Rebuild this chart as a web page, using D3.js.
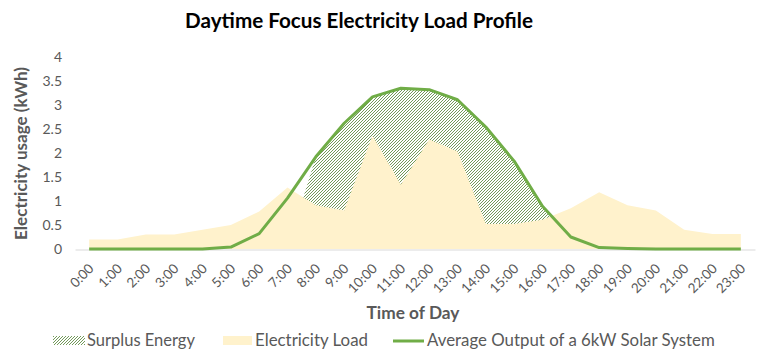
<!DOCTYPE html>
<html>
<head>
<meta charset="utf-8">
<script src="https://cdn.jsdelivr.net/npm/d3@7"></script>
<style>
  html, body { margin: 0; padding: 0; background: #ffffff; }
  svg { display: block; font-family: Lato, "Open Sans", "Liberation Sans", sans-serif; }
</style>
</head>
<body>
<svg id="chart" width="770" height="360"></svg>
<script>
// ---- data ----
const hours = ["0:00","1:00","2:00","3:00","4:00","5:00","6:00","7:00","8:00","9:00","10:00","11:00",
               "12:00","13:00","14:00","15:00","16:00","17:00","18:00","19:00","20:00","21:00","22:00","23:00"];
const load = [0.2,0.2,0.3,0.3,0.4,0.5,0.78,1.28,0.91,0.8,2.36,1.34,2.28,2.03,0.52,0.52,0.61,0.85,1.18,0.91,0.8,0.4,0.31,0.31];
const solar = [0,0,0,0,0,0.04,0.32,1.06,1.92,2.62,3.17,3.35,3.32,3.11,2.54,1.83,0.89,0.25,0.03,0.01,0,0,0,0];
const surplus = [0,0,0,0,0,0,0,0,1.92,2.62,3.17,3.35,3.32,3.11,2.54,1.83,0.89,0,0,0,0,0,0,0];
const yTicks = [0,0.5,1,1.5,2,2.5,3,3.5,4];
const seriesNames = ["Surplus Energy","Electricity Load","Average Output of a 6kW Solar System"];
const title = "Daytime Focus Electricity Load Profile";
const xTitle = "Time of Day";
const yTitle = "Electricity usage (kWh)";

// ---- chart ----
const svg = d3.select("#chart");
const textCol = "#595959";
const loadCol = "#FFF2CC";
const solarCol = "#70AD47";
const hatchCol = "#4E7F2E";

const defs = svg.append("defs");
const pat = defs.append("pattern").attr("id","hatch").attr("patternUnits","userSpaceOnUse")
  .attr("width",3).attr("height",3);
pat.append("rect").attr("width",3).attr("height",3).attr("fill","#ffffff");
pat.append("path").attr("d","M-1,1 l2,-2 M0,3 l3,-3 M2,4 l2,-2")
  .attr("stroke",hatchCol).attr("stroke-width",0.8);

const x = d3.scalePoint().domain(hours).range([75,755]).padding(0.5);
const y = d3.scaleLinear().domain([0,4]).range([249,57]);

function fit(sel, w) {
  const l = sel.node().getComputedTextLength();
  const fs = parseFloat(sel.attr("font-size"));
  sel.attr("font-size", (fs * w / l).toFixed(2));
}

// y axis
const yAxis = svg.append("g").attr("transform","translate(62,0)")
  .call(d3.axisLeft(y).tickValues(yTicks).tickSize(0).tickPadding(0).tickFormat(d => String(d)));
yAxis.select(".domain").remove();
yAxis.selectAll("text").attr("fill",textCol).attr("font-size",14).attr("font-family","Lato, sans-serif");

// areas
const idx = d3.range(hours.length);
svg.append("path").datum(idx)
  .attr("fill","url(#hatch)")
  .attr("d", d3.area().x(i => x(hours[i])).y0(y(0)).y1(i => y(surplus[i])));
svg.append("path").datum(idx)
  .attr("fill",loadCol)
  .attr("d", d3.area().x(i => x(hours[i])).y0(y(0)).y1(i => y(load[i])));

// x axis
const xAxis = svg.append("g").attr("transform","translate(0,249.5)")
  .call(d3.axisBottom(x).tickSize(0).tickSizeOuter(0));
xAxis.select(".domain").attr("stroke","#d9d9d9").attr("stroke-width",1);
xAxis.selectAll("text")
  .attr("x",0).attr("y",0).attr("dy",0)
  .attr("text-anchor","end")
  .attr("transform","translate(5,20) rotate(-45)")
  .attr("fill",textCol).attr("font-size",13.5).attr("font-family","Lato, sans-serif");

// solar line
svg.append("path").datum(idx)
  .attr("fill","none").attr("stroke",solarCol).attr("stroke-width",3).attr("stroke-linejoin","round")
  .attr("d", d3.line().x(i => x(hours[i])).y(i => y(solar[i])));

// titles
const t = svg.append("text").attr("x",359).attr("y",28).attr("text-anchor","middle")
  .attr("font-weight","bold").attr("font-size",20).attr("fill","#000").text(title);
fit(t, 348);
const xt = svg.append("text").attr("x",413).attr("y",319).attr("text-anchor","middle")
  .attr("font-weight","bold").attr("font-size",15).attr("fill",textCol).text(xTitle);
fit(xt, 93);
const yt = svg.append("text").attr("transform","translate(27,153.5) rotate(-90)").attr("text-anchor","middle")
  .attr("font-weight","bold").attr("font-size",15).attr("fill",textCol).text(yTitle);
fit(yt, 173);

// legend
const lg = svg.append("g");
lg.append("rect").attr("x",53).attr("y",336).attr("width",32).attr("height",9).attr("fill","url(#hatch)");
lg.append("rect").attr("x",223).attr("y",336).attr("width",29).attr("height",9).attr("fill",loadCol);
lg.append("line").attr("x1",393).attr("x2",424).attr("y1",341).attr("y2",341)
  .attr("stroke",solarCol).attr("stroke-width",3);
const legX = [87,255,427], legW = [108,113,288];
seriesNames.forEach((n,i) => {
  const tx = lg.append("text").attr("x",legX[i]).attr("y",346).attr("font-size",16)
    .attr("fill",textCol).text(n);
  fit(tx, legW[i]);
});
</script>
</body>
</html>
